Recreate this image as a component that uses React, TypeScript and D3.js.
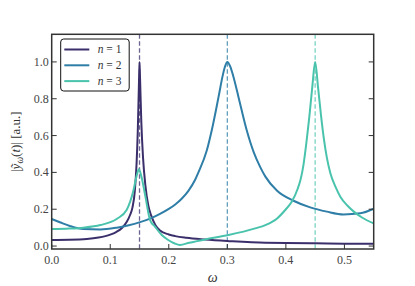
import * as d3 from "d3";

const WIDTH = 415;
const HEIGHT = 286;
const MARGIN = { top: 34.3, right: 41.3, bottom: 37, left: 51.7 };

const SERIES_NAMES = ["n = 1", "n = 2", "n = 3"];
const COLORS = ["#3b2f6b", "#2f7ea7", "#4ac3ad"];
const RESONANCES = [0.15, 0.3, 0.45];

const X_TICKS = [0, 0.1, 0.2, 0.3, 0.4, 0.5];
const Y_TICKS = [0, 0.2, 0.4, 0.6, 0.8, 1.0];

// n = 1
const OMEGA_1 = [
  0, 0.03, 0.06, 0.08, 0.1, 0.11, 0.12, 0.128, 0.134, 0.138, 0.142, 0.145,
  0.147, 0.149, 0.15, 0.151, 0.153, 0.156, 0.16, 0.165, 0.17, 0.177, 0.185,
  0.2, 0.211, 0.23, 0.262, 0.3, 0.365, 0.4, 0.45, 0.5, 0.55,
];
const AMP_1 = [
  0.033, 0.034, 0.038, 0.046, 0.062, 0.076, 0.098, 0.13, 0.17, 0.21, 0.3,
  0.45, 0.62, 0.88, 1.0, 0.9, 0.68, 0.48, 0.33, 0.22, 0.165, 0.115, 0.085,
  0.063, 0.054, 0.045, 0.036, 0.028, 0.018, 0.017, 0.015, 0.013, 0.012,
];

// n = 2
const OMEGA_2 = [
  0, 0.015, 0.031, 0.054, 0.083, 0.111, 0.13, 0.151, 0.17, 0.185, 0.2, 0.211,
  0.222, 0.2335, 0.245, 0.2506, 0.265, 0.2735, 0.285, 0.2917, 0.296, 0.3,
  0.305, 0.3104, 0.319, 0.333, 0.345, 0.356, 0.365, 0.385, 0.413, 0.4415,
  0.47, 0.4985, 0.527, 0.55,
];
const AMP_2 = [
  0.147, 0.128, 0.109, 0.092, 0.09, 0.1, 0.112, 0.13, 0.152, 0.175, 0.202,
  0.226, 0.257, 0.3, 0.36, 0.4, 0.52, 0.63, 0.81, 0.92, 0.975, 1.0, 0.975, 0.92,
  0.81, 0.63, 0.51, 0.43, 0.377, 0.3, 0.246, 0.21, 0.187, 0.172, 0.178, 0.203,
];

// n = 3
const OMEGA_3 = [
  0, 0.03, 0.054, 0.083, 0.111, 0.128, 0.1395, 0.145, 0.149, 0.153, 0.16,
  0.168, 0.177, 0.188, 0.199, 0.21, 0.219, 0.235, 0.262, 0.302, 0.3475, 0.365,
  0.385, 0.4, 0.41, 0.42, 0.425, 0.43, 0.435, 0.44, 0.445, 0.45, 0.455, 0.46,
  0.465, 0.47, 0.476, 0.485, 0.493, 0.505, 0.516, 0.53, 0.55,
];
const AMP_3 = [
  0.092, 0.095, 0.1, 0.114, 0.147, 0.196, 0.3, 0.38, 0.417, 0.38, 0.27, 0.141,
  0.103, 0.06, 0.033, 0.014, 0.006, 0.018, 0.036, 0.06, 0.096, 0.114, 0.15,
  0.2, 0.24, 0.31, 0.36, 0.44, 0.56, 0.7, 0.86, 1.0, 0.86, 0.71, 0.58, 0.48,
  0.395, 0.32, 0.268, 0.22, 0.187, 0.155, 0.123,
];

const SERIES = [
  { omega: OMEGA_1, amp: AMP_1 },
  { omega: OMEGA_2, amp: AMP_2 },
  { omega: OMEGA_3, amp: AMP_3 },
];

const SERIF = "Liberation Serif, DejaVu Serif, serif";
const FRAME = "#333333";

export default function App() {
  const boundsWidth = WIDTH - MARGIN.left - MARGIN.right;
  const boundsHeight = HEIGHT - MARGIN.top - MARGIN.bottom;

  const xScale = d3.scaleLinear().domain([0, 0.55]).range([0, boundsWidth]);
  const yScale = d3
    .scaleLinear()
    .domain([-0.016, 1.15])
    .range([boundsHeight, 0]);

  const line = d3
    .line<[number, number]>()
    .x((d) => xScale(d[0]))
    .y((d) => yScale(d[1]))
    .curve(d3.curveMonotoneX);

  return (
    <svg
      width={WIDTH}
      height={HEIGHT}
      style={{ position: "absolute", left: 0, top: 0, background: "white" }}
    >
      <defs>
        <clipPath id="plot-area">
          <rect x={0} y={0} width={boundsWidth} height={boundsHeight} />
        </clipPath>
      </defs>
      <g transform={`translate(${MARGIN.left},${MARGIN.top})`} fontFamily={SERIF}>
        <g clipPath="url(#plot-area)">
          {RESONANCES.map((w, i) => (
            <line
              key={"res" + i}
              x1={xScale(w)}
              x2={xScale(w)}
              y1={0}
              y2={boundsHeight}
              stroke={COLORS[i]}
              strokeOpacity={0.75}
              strokeWidth={1.3}
              strokeDasharray="4.5,2.5"
            />
          ))}
          {SERIES.map((s, i) => (
            <path
              key={"s" + i}
              d={line(s.omega.map((w, j) => [w, s.amp[j]] as [number, number])) || ""}
              fill="none"
              stroke={COLORS[i]}
              strokeWidth={2}
              strokeLinejoin="round"
            />
          ))}
        </g>

        {/* ticks */}
        {X_TICKS.map((t) => (
          <g key={"xt" + t}>
            <line
              x1={xScale(t)}
              x2={xScale(t)}
              y1={boundsHeight}
              y2={boundsHeight - 5}
              stroke={FRAME}
              strokeWidth={1}
            />
            <text
              x={xScale(t)}
              y={boundsHeight + 15}
              textAnchor="middle"
              fontSize={12}
              fill="#444"
            >
              {t.toFixed(1)}
            </text>
          </g>
        ))}
        {Y_TICKS.map((t) => (
          <g key={"yt" + t}>
            <line
              x1={0}
              x2={5}
              y1={yScale(t)}
              y2={yScale(t)}
              stroke={FRAME}
              strokeWidth={1}
            />
            <line
              x1={boundsWidth}
              x2={boundsWidth - 5}
              y1={yScale(t)}
              y2={yScale(t)}
              stroke={FRAME}
              strokeWidth={1}
            />
            <text
              x={-3}
              y={yScale(t) + 4}
              textAnchor="end"
              fontSize={12}
              fill="#444"
            >
              {t.toFixed(1)}
            </text>
          </g>
        ))}

        <rect
          x={0}
          y={0}
          width={boundsWidth}
          height={boundsHeight}
          fill="none"
          stroke={FRAME}
          strokeWidth={1.5}
        />

        {/* legend */}
        <g transform="translate(9,4.7)">
          <rect
            x={0}
            y={0}
            width={68.5}
            height={52}
            rx={3}
            fill="white"
            stroke="#111"
            strokeWidth={1}
          />
          {SERIES_NAMES.map((name, i) => {
            const y = 10.5 + i * 15.8;
            const [n, eq] = name.split(" = ");
            return (
              <g key={"lg" + i}>
                <line
                  x1={3.6}
                  x2={28.6}
                  y1={y}
                  y2={y}
                  stroke={COLORS[i]}
                  strokeWidth={2}
                />
                <text x={37} y={y + 3.8} fontSize={11.5} fill="#333">
                  <tspan fontStyle="italic">{n}</tspan>
                  {" = " + eq}
                </text>
              </g>
            );
          })}
        </g>

        {/* axis labels */}
        <text
          x={boundsWidth / 2}
          y={boundsHeight + 33}
          textAnchor="middle"
          fontStyle="italic"
          fontSize={14}
          fill="#333"
        >
          ω
        </text>
        <text
          transform={`translate(${-32},${boundsHeight / 2}) rotate(-90)`}
          textAnchor="middle"
          fontSize={13}
          fill="#333"
        >
          |<tspan fontStyle="italic">ỹ</tspan>
          <tspan fontStyle="italic" fontSize={9.5} dy={3}>ω</tspan>
          <tspan dy={-3}>(</tspan>
          <tspan fontStyle="italic">t</tspan>)| [a.u.]
        </text>
      </g>
    </svg>
  );
}
